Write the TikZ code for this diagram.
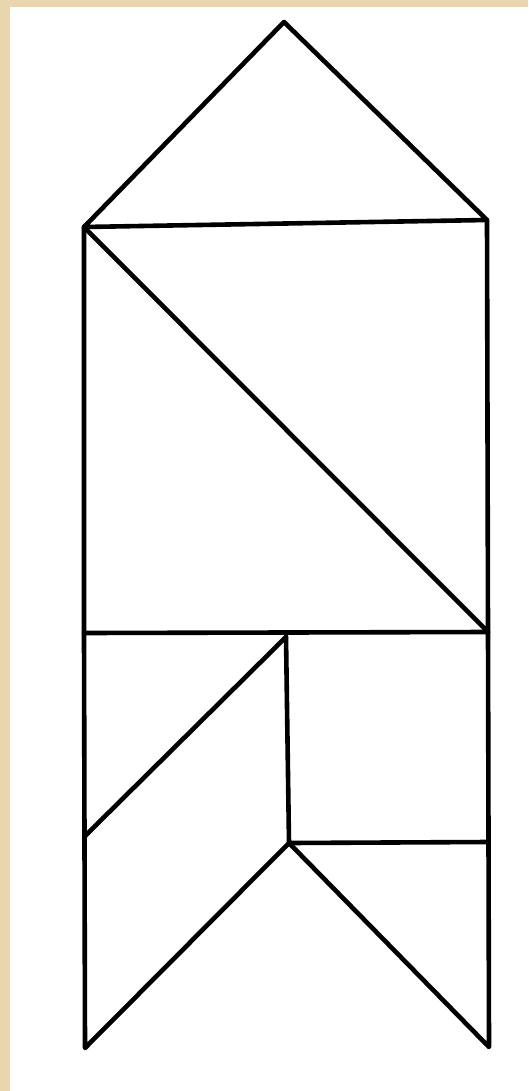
\documentclass[tikz,border=0pt]{standalone}
\usepackage{tikz}
\definecolor{paper}{RGB}{233,213,174}

\begin{document}
\begin{tikzpicture}[x=1pt,y=-1pt,line join=round,line cap=round]
\tikzset{piece/.style={line width=4.6pt,black}}
% frame
\fill[paper] (0,0) rectangle (528,1091);
\fill[white] (10,7) rectangle (528,1091);
\useasboundingbox (0,0) rectangle (528,1091);
% corners
\coordinate (apex) at (284,22);
\coordinate (tl) at (84,227);
\coordinate (tr) at (487,220);
\coordinate (ml) at (84,633);
\coordinate (mr) at (488,632);
\coordinate (mc) at (286,637);
\coordinate (ll) at (85,836);
\coordinate (cc) at (289,843);
\coordinate (cr) at (488,842);
\coordinate (bl) at (85,1048);
\coordinate (br) at (489,1047);
% roof
\draw[piece] (tl) -- (apex) -- (tr) -- cycle;
% square with diagonal
\draw[piece] (tl) -- (ml) -- (mr) -- (tr);
\draw[piece] (tl) -- (mr);
% lower pieces
\draw[piece] (ml) -- (bl) -- (cc) -- (br) -- (mr);
\draw[piece] (mc) -- (ll);
\draw[piece] (mc) -- (cc) -- (cr);
\end{tikzpicture}
\end{document}
